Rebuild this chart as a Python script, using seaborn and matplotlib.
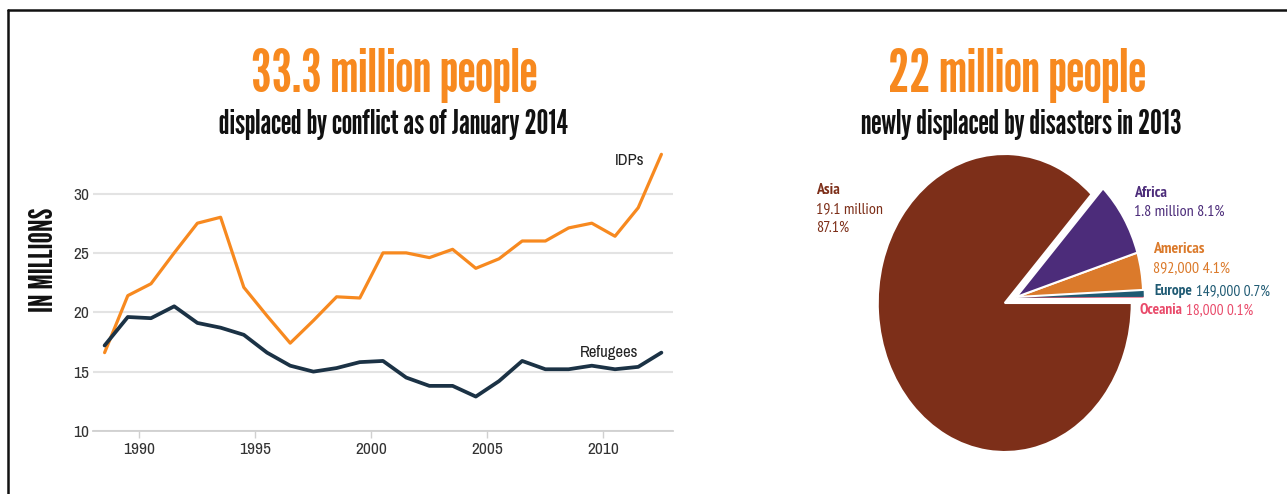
import numpy as np
import pandas as pd
import matplotlib
matplotlib.use("Agg")
import matplotlib.pyplot as plt
from matplotlib import font_manager
from matplotlib.lines import Line2D
import seaborn as sns

# ---------------- data ----------------
years = list(range(1989, 2014))
idps = [16.6, 21.4, 22.4, 25.0, 27.5, 28.0, 22.1, 19.7, 17.4, 19.3, 21.3, 21.2,
        25.0, 25.0, 24.6, 25.3, 23.7, 24.5, 26.0, 26.0, 27.1, 27.5, 26.4, 28.8, 33.3]
refugees = [17.2, 19.6, 19.5, 20.5, 19.1, 18.7, 18.1, 16.6, 15.5, 15.0, 15.3, 15.8,
            15.9, 14.5, 13.8, 13.8, 12.9, 14.2, 15.9, 15.2, 15.2, 15.5, 15.2, 15.4, 16.6]
x_ticks = [1990, 1995, 2000, 2005, 2010]
y_ticks = [10, 15, 20, 25, 30]

regions = ["Oceania", "Europe", "Americas", "Africa", "Asia"]
region_values = [0.018, 0.149, 0.892, 1.8, 19.1]   # millions
region_value_labels = ["18,000", "149,000", "892,000", "1.8 million", "19.1 million"]
region_pcts = ["0.1%", "0.7%", "4.1%", "8.1%", "87.1%"]
region_colors = ["#E94A6A", "#1F5A73", "#DB7A2B", "#4C2C7A", "#7D2F19"]

ORANGE = "#F7891F"
NAVY = "#1B3245"

sns.set_theme(style="white")
names = {f.name for f in font_manager.fontManager.ttflist}
def fams(cands):
    out = [c for c in cands if c in names]
    return out + ["DejaVu Sans"]
GOTHIC = fams(["League Gothic", "Oswald", "Roboto Condensed", "Liberation Sans Narrow"])
NARROW = fams(["Archivo Narrow", "PT Sans Narrow", "Liberation Sans Narrow", "Roboto Condensed", "Liberation Sans"])
LABEL = fams(["PT Sans Narrow", "Pragati Narrow", "Archivo Narrow", "Liberation Sans"])
plt.rcParams["font.family"] = NARROW

fig = plt.figure(figsize=(12.87, 4.94), dpi=100)

# ---------------- line chart ----------------
ax = fig.add_axes([93/1287, 1 - 431/494, 580/1287, (431 - 146)/494])
df = pd.DataFrame({
    "pos": [y - 0.5 for y in years] * 2,
    "value": idps + refugees,
    "series": ["IDPs"] * len(years) + ["Refugees"] * len(years),
})
sns.lineplot(data=df, x="pos", y="value", hue="series",
             palette={"IDPs": ORANGE, "Refugees": NAVY}, legend=False, ax=ax)
ax.lines[0].set_linewidth(2.3)
ax.lines[1].set_linewidth(2.7)
ax.set_xlim(1988, 2013)
ax.set_ylim(10, 34)
ax.set_xticks(x_ticks)
ax.set_yticks(y_ticks)
ax.set_xlabel("")
ax.set_ylabel("IN MILLIONS", fontsize=23, color="#111111", family=GOTHIC)
ax.yaxis.set_label_coords(-0.059, 0.60)
ax.grid(axis="y", color="#e3e3e3", linewidth=1.5)
ax.grid(axis="x", visible=False)
for s in ["top", "right", "left"]:
    ax.spines[s].set_visible(False)
ax.spines["bottom"].set_color("#d0d0d0")
ax.spines["bottom"].set_linewidth(1.3)
ax.tick_params(axis="x", bottom=True, length=5, width=1, color="#d0d0d0",
               labelsize=12.5, labelcolor="#333333", pad=3)
ax.tick_params(axis="y", left=False, length=0, labelsize=12.5, labelcolor="#333333", pad=2.5)
ax.text(2011.15, 32.8, "IDPs", fontsize=12, color="#222222", ha="center", va="center")
ax.text(2010.25, 16.65, "Refugees", fontsize=12, color="#222222", ha="center", va="center")

# ---------------- pie ----------------
pax = fig.add_axes([846/1287, 4.75/494, 317.5/1287, 372.5/494])
wedges, _ = pax.pie(region_values, colors=region_colors, startangle=0,
                    counterclock=True,
                    wedgeprops=dict(edgecolor="white", linewidth=1.5))
for w, name in zip(wedges, regions):
    if name != "Asia":
        w.set_center((0.09, 0.04))
    if name in ("Oceania", "Europe"):
        w.set_edgecolor(w.get_facecolor())
        w.set_linewidth(0.8)
pax.set_aspect("auto")
pax.set_xlim(-1.25, 1.25)
pax.set_ylim(-1.25, 1.25)
pax.axis("off")

LS = 11.5
# Asia
c = region_colors[4]
fig.text(816/1287, 1 - 194/494, "Asia", color=c, fontsize=LS, fontweight="bold", family=LABEL)
fig.text(816/1287, 1 - 213/494, region_value_labels[4], color=c, fontsize=LS, family=LABEL)
fig.text(816/1287, 1 - 232/494, region_pcts[4], color=c, fontsize=LS, family=LABEL)
# Africa
c = region_colors[3]
fig.text(1134/1287, 1 - 197/494, "Africa", color=c, fontsize=LS, fontweight="bold", family=LABEL)
fig.text(1134/1287, 1 - 216/494, region_value_labels[3] + " " + region_pcts[3], color=c,
         fontsize=LS, family=LABEL)
# Americas
c = region_colors[2]
fig.text(1153/1287, 1 - 253/494, "Americas", color=c, fontsize=LS, fontweight="bold", family=LABEL)
fig.text(1153/1287, 1 - 272/494, region_value_labels[2] + " " + region_pcts[2], color=c,
         fontsize=LS, family=LABEL)
# Europe / Oceania (name bold, rest regular)
for name, idx, xx, yy in [("Europe", 1, 1154, 295), ("Oceania", 0, 1139, 314)]:
    c = region_colors[idx]
    t1 = fig.text(xx/1287, 1 - yy/494, name, color=c, fontsize=LS - 0.5, fontweight="bold",
                  family=LABEL)
    fig.canvas.draw()
    bb = t1.get_window_extent()
    fig.text((bb.x1 + 4)/1287, 1 - yy/494, region_value_labels[idx] + " " + region_pcts[idx],
             color=c, fontsize=LS - 0.5, family=LABEL)

# ---------------- titles ----------------
fig.text(394/1287, 1 - 92/494, "33.3 million people", color=ORANGE, fontsize=42,
         family=GOTHIC, ha="center", va="baseline")
fig.text(394/1287, 1 - 134/494, "displaced by conflict as of January 2014", color="#111111",
         fontsize=24, family=GOTHIC, ha="center", va="baseline")
fig.text(1017/1287, 1 - 92/494, "22 million people", color=ORANGE, fontsize=42,
         family=GOTHIC, ha="center", va="baseline")
fig.text(1021/1287, 1 - 134/494, "newly displaced by disasters in 2013", color="#111111",
         fontsize=24, family=GOTHIC, ha="center", va="baseline")

# frame lines
fig.add_artist(Line2D([8/1287, 1], [1 - 10/494, 1 - 10/494], color="#111111", linewidth=1.8,
                      transform=fig.transFigure))
fig.add_artist(Line2D([8/1287, 8/1287], [0, 1 - 10/494], color="#111111", linewidth=1.8,
                      transform=fig.transFigure))

fig.savefig("out.png", dpi=100)
